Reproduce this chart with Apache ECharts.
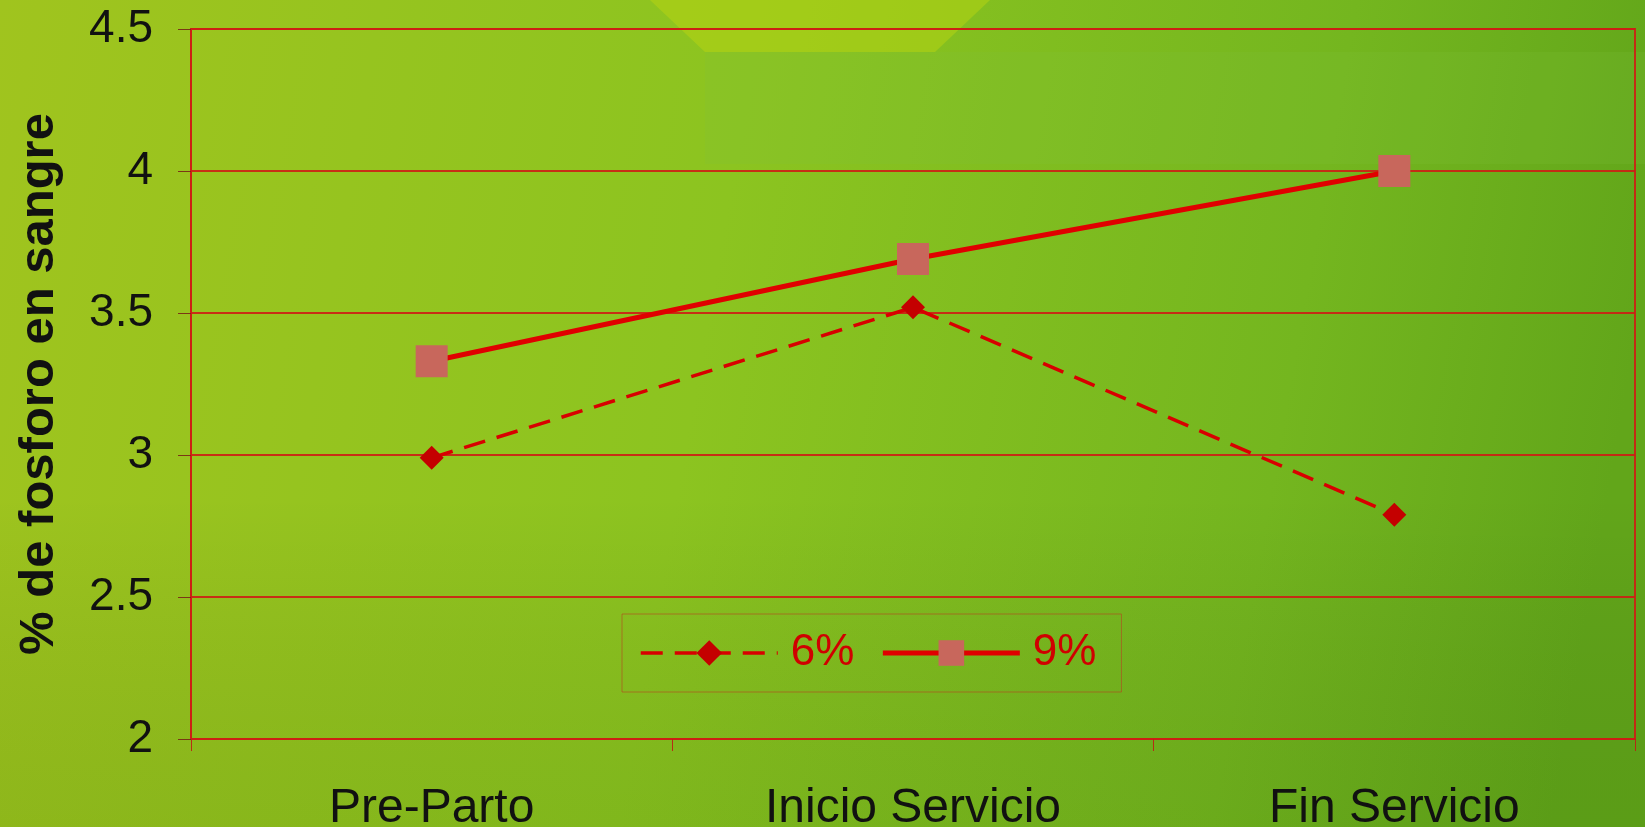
<!DOCTYPE html>
<html>
<head>
<meta charset="utf-8">
<script src="https://cdn.jsdelivr.net/npm/echarts@6/dist/echarts.min.js"></script>
<style>
html,body{margin:0;padding:0;width:1645px;height:827px;overflow:hidden;}
#chart{width:1645px;height:827px;}
</style>
</head>
<body>
<div id="chart"></div>
<script>
// ---- data ----
const categories = ['Pre-Parto', 'Inicio Servicio', 'Fin Servicio'];
const serie6 = [2.99, 3.52, 2.79];
const serie9 = [3.33, 3.69, 4.00];
const seriesNames = ['6%', '9%'];
const yAxisTitle = '% de fosforo en sangre';

const chart = echarts.init(document.getElementById('chart'), null, {renderer: 'canvas'});
const font = 'Liberation Sans, Arial, sans-serif';
const red = '#d80000';

const option = {
  animation: false,
  backgroundColor: {
    type: 'linear', x: 0, y: 0, x2: 1, y2: 0.35,
    colorStops: [
      {offset: 0, color: '#a0c41e'},
      {offset: 0.45, color: '#8cc420'},
      {offset: 0.8, color: '#74b61f'},
      {offset: 1, color: '#62a61a'}
    ]
  },
  graphic: [
    {type: 'polygon', z: -10, silent: true,
     shape: {points: [[650, 0], [990, 0], [935, 52], [705, 52]]},
     style: {fill: 'rgba(190,215,15,0.45)'}},
    {type: 'rect', z: -10, silent: true,
     shape: {x: 705, y: 52, width: 940, height: 112},
     style: {fill: 'rgba(130,195,60,0.18)'}},
    {type: 'rect', z: -10, silent: true,
     shape: {x: 0, y: 0, width: 1645, height: 827},
     style: {fill: {type: 'linear', x: 0, y: 0, x2: 0, y2: 1,
       colorStops: [{offset: 0, color: 'rgba(0,0,0,0)'}, {offset: 0.6, color: 'rgba(0,0,0,0)'}, {offset: 1, color: 'rgba(40,90,0,0.12)'}]}}}
  ],
  grid: {left: 191, right: 10, top: 29, bottom: 88, show: true, outerBoundsMode: 'none', containLabel: false,
         borderColor: 'rgba(205,30,20,0.9)', borderWidth: 2},
  legend: {
    left: 622, top: 614,
    padding: [17, 25, 17, 17],
    borderColor: 'rgba(185,60,30,0.55)', borderWidth: 1,
    itemWidth: 137, itemHeight: 32, itemGap: 26,
    lineStyle: {width: 'inherit'},
    textStyle: {color: '#d00000', fontSize: 44, fontFamily: font, padding: [0, 0, 0, 8]},
    data: seriesNames
  },
  xAxis: {
    type: 'category', data: categories, boundaryGap: true,
    axisLine: {lineStyle: {color: 'rgba(205,30,20,0.9)', width: 2}},
    axisTick: {show: true, length: 12, lineStyle: {color: 'rgba(190,30,20,0.9)', width: 1}},
    axisLabel: {color: '#111', fontSize: 48, fontFamily: font, margin: 46}
  },
  yAxis: {
    type: 'value', min: 2, max: 4.5, interval: 0.5,
    name: yAxisTitle, nameLocation: 'middle', nameGap: 127, nameRotate: 90,
    nameTextStyle: {color: '#111', fontSize: 49, fontWeight: 'bold', fontFamily: font},
    axisLine: {show: true, lineStyle: {color: 'rgba(205,30,20,0.9)', width: 2}},
    axisTick: {show: true, length: 13, lineStyle: {color: 'rgba(120,40,20,0.9)', width: 1}},
    axisLabel: {color: '#111', fontSize: 46, fontFamily: font, margin: 38},
    splitLine: {show: true, lineStyle: {color: 'rgba(205,30,20,0.9)', width: 2}}
  },
  series: [
    {
      name: seriesNames[0], type: 'line', data: serie6,
      symbol: 'diamond', symbolSize: 24,
      itemStyle: {color: '#c40000'},
      lineStyle: {color: red, width: 3.5, type: [22, 12]},
      z: 3
    },
    {
      name: seriesNames[1], type: 'line', data: serie9,
      symbol: 'rect', symbolSize: 32,
      itemStyle: {color: '#c8675c'},
      lineStyle: {color: '#e00000', width: 5},
      z: 4
    }
  ]
};
chart.setOption(option);
</script>
</body>
</html>
